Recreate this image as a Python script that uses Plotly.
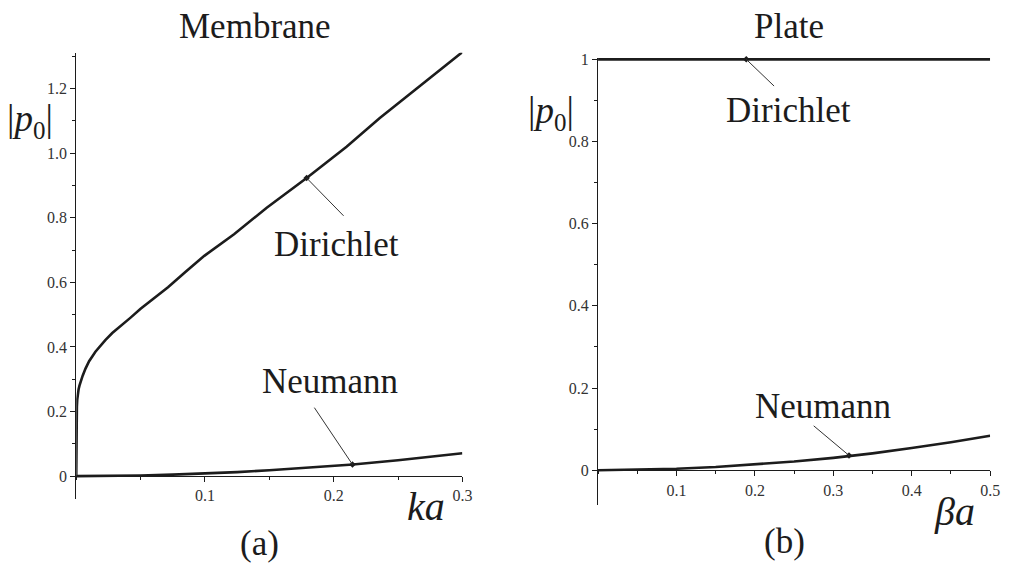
import plotly.graph_objects as go

# ---------------- data ----------------
# Membrane (a)
mem_ka = [0, 0.0001, 0.0003, 0.0005, 0.0008, 0.0012, 0.0018, 0.0025, 0.0033, 0.005, 0.0072,
          0.01, 0.0149, 0.0185, 0.0226, 0.028, 0.0354, 0.042, 0.05, 0.06, 0.0713, 0.085,
          0.0995, 0.1226, 0.148, 0.179, 0.21, 0.2356, 0.2664, 0.3]
mem_dirichlet = [0, 0.12, 0.18, 0.215, 0.238, 0.255, 0.268, 0.28, 0.292, 0.311, 0.333,
                 0.356, 0.385, 0.402, 0.421, 0.443, 0.467, 0.49, 0.518, 0.55, 0.585, 0.633,
                 0.682, 0.749, 0.831, 0.923, 1.02, 1.108, 1.205, 1.313]
mem_ka_n = [0, 0.025, 0.05, 0.075, 0.1, 0.125, 0.15, 0.175, 0.2, 0.215, 0.25, 0.275, 0.3]
mem_neumann = [0, 0.0005, 0.002, 0.0045, 0.008, 0.0125, 0.018, 0.0245, 0.031, 0.036,
               0.049, 0.059, 0.071]

# Plate (b)
pl_ba = [0, 0.05, 0.1, 0.15, 0.2, 0.25, 0.3, 0.32, 0.35, 0.4, 0.45, 0.5]
pl_dirichlet = [1, 1, 1, 1, 1, 1, 1, 1, 1, 1, 1, 1]
pl_neumann = [0, 0.0008, 0.0034, 0.0076, 0.0135, 0.021, 0.030, 0.034, 0.041, 0.054, 0.068, 0.084]

# tick labels
mem_yticks = [0, 0.2, 0.4, 0.6, 0.8, 1.0, 1.2]
mem_yticktext = ["0", "0.2", "0.4", "0.6", "0.8", "1.0", "1.2"]
mem_xticks = [0.1, 0.2, 0.3]
mem_xticktext = ["0.1", "0.2", "0.3"]
pl_yticks = [0, 0.2, 0.4, 0.6, 0.8, 1.0]
pl_yticktext = ["0", "0.2", "0.4", "0.6", "0.8", "1"]
pl_xticks = [0.1, 0.2, 0.3, 0.4, 0.5]
pl_xticktext = ["0.1", "0.2", "0.3", "0.4", "0.5"]

# labelled points: (panel, name, point x, point y, leader end x, leader end y, text x, text y)
labels = [
    ("a", "Dirichlet", 0.179, 0.923, 0.2077, 0.806, 0.2023, 0.717),
    ("a", "Neumann", 0.2146, 0.036, 0.185, 0.212, 0.197, 0.292),
    ("b", "Dirichlet", 0.189, 1.0, 0.2245, 0.935, 0.243, 0.875),
    ("b", "Neumann", 0.320, 0.036, 0.275, 0.108, 0.2875, 0.156),
]

# ---------------- layout geometry ----------------
W, H = 1013, 565
FONT = "Liberation Serif"
INK = "#1c1c1c"


def fx(px):
    return px / W


def fy(py):
    return 1 - py / H


fig = go.Figure()

line_style = dict(color=INK, width=2.6)
fig.add_trace(go.Scatter(x=mem_ka, y=mem_dirichlet, mode="lines", line=line_style,
                         xaxis="x", yaxis="y", showlegend=False, hoverinfo="skip"))
fig.add_trace(go.Scatter(x=mem_ka_n, y=mem_neumann, mode="lines", line=line_style,
                         xaxis="x", yaxis="y", showlegend=False, hoverinfo="skip"))
fig.add_trace(go.Scatter(x=pl_ba, y=pl_dirichlet, mode="lines", line=line_style,
                         xaxis="x2", yaxis="y2", showlegend=False, hoverinfo="skip"))
fig.add_trace(go.Scatter(x=pl_ba, y=pl_neumann, mode="lines", line=line_style,
                         xaxis="x2", yaxis="y2", showlegend=False, hoverinfo="skip"))

for panel in ["a", "b"]:
    pts = [l for l in labels if l[0] == panel]
    fig.add_trace(go.Scatter(x=[p[2] for p in pts], y=[p[3] for p in pts], mode="markers",
                             marker=dict(symbol="diamond", size=5, color=INK),
                             xaxis="x" if panel == "a" else "x2",
                             yaxis="y" if panel == "a" else "y2",
                             showlegend=False, hoverinfo="skip", cliponaxis=False))

annotations = []
shapes = []
for panel, name, px_, py_, ex, ey, tx, ty in labels:
    xr = "x" if panel == "a" else "x2"
    yr = "y" if panel == "a" else "y2"
    shapes.append(dict(type="line", xref=xr, yref=yr, x0=px_, y0=py_, x1=ex, y1=ey,
                       line=dict(color="#333333", width=1)))
    annotations.append(dict(x=tx, y=ty, xref=xr, yref=yr, text=name, showarrow=False,
                            xanchor="center", yanchor="middle",
                            font=dict(family=FONT, size=35, color=INK)))

p0 = "|<i>p</i><sub><span style='font-size:25px'>0</span></sub>|"
paper_text = [
    ("Membrane", 258, 20, 35),
    ("Plate", 797, 20, 35),
    (p0, 30, 115, 37),
    (p0, 556, 107, 37),
    ("<i>ka</i>", 430, 506, 40),
    ("<i>βa</i>", 964, 511, 40),
    ("(a)", 262, 543, 35),
    ("(b)", 792, 541, 35),
]
for txt, px_, py_, size in paper_text:
    annotations.append(dict(x=fx(px_), y=fy(py_), xref="paper", yref="paper", text=txt,
                            showarrow=False, xanchor="center", yanchor="middle",
                            font=dict(family=FONT, size=size, color=INK)))

tickfont = dict(family=FONT, size=16, color="#333333")
common_axis = dict(showgrid=False, zeroline=False, showline=True, linecolor=INK, linewidth=1.3,
                   ticks="outside", ticklen=5, tickcolor=INK, tickwidth=1, tickfont=tickfont,
                   fixedrange=True)

# left panel pixel geometry
L_x0, L_x1 = 77, 467          # ka 0 .. 0.3
L_y0px, L_pxunit = 475, 327   # pixel of |p0|=0 and pixels per unit
L_ymin, L_ymax = -0.071, 1.311
# right panel
R_x0, R_x1 = 604, 1000        # beta a 0 .. 0.5
R_y0px, R_pxunit = 469, 416
R_ymin, R_ymax = -0.084, 1.004

fig.update_layout(
    width=W, height=H,
    margin=dict(l=0, r=0, t=0, b=0),
    paper_bgcolor="white", plot_bgcolor="white",
    showlegend=False,
    annotations=annotations,
    shapes=shapes,
    xaxis=dict(common_axis, domain=[fx(L_x0), fx(L_x1)], range=[0, 0.3],
               anchor="free", position=fy(L_y0px),
               tickvals=mem_xticks, ticktext=mem_xticktext,
               minor=dict(dtick=0.05, tick0=0, ticks="outside", ticklen=3, tickcolor=INK)),
    yaxis=dict(common_axis, domain=[fy(L_y0px - L_ymin * L_pxunit), fy(L_y0px - L_ymax * L_pxunit)],
               range=[L_ymin, L_ymax], anchor="x",
               tickvals=mem_yticks, ticktext=mem_yticktext,
               minor=dict(dtick=0.1, tick0=0, ticks="outside", ticklen=3, tickcolor=INK)),
    xaxis2=dict(common_axis, domain=[fx(R_x0), fx(R_x1)], range=[0, 0.5],
                anchor="free", position=fy(R_y0px),
                tickvals=pl_xticks, ticktext=pl_xticktext,
                minor=dict(dtick=0.05, tick0=0, ticks="outside", ticklen=3, tickcolor=INK)),
    yaxis2=dict(common_axis, domain=[fy(R_y0px - R_ymin * R_pxunit), fy(R_y0px - R_ymax * R_pxunit)],
                range=[R_ymin, R_ymax], anchor="x2",
                tickvals=pl_yticks, ticktext=pl_yticktext,
                minor=dict(dtick=0.1, tick0=0, ticks="outside", ticklen=3, tickcolor=INK)),
)

fig.write_html("out.html", config={"displayModeBar": False},
               post_script="document.body.style.margin='0';document.body.style.overflow='hidden';")
